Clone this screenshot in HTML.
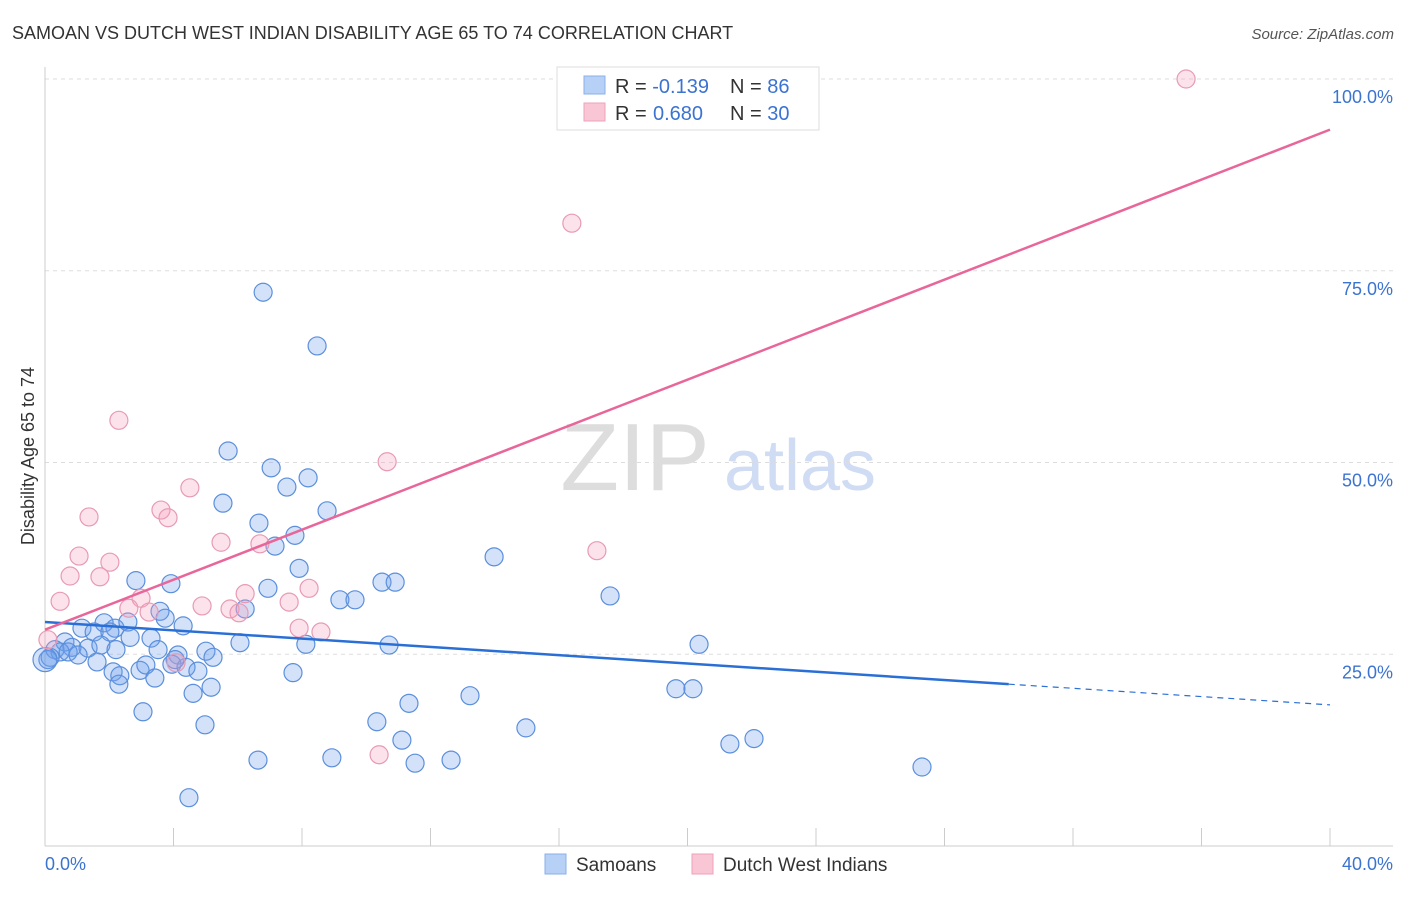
<!DOCTYPE html>
<html><head><meta charset="utf-8"><style>
body{margin:0;background:#fff;font-family:"Liberation Sans",sans-serif}
svg text{font-family:"Liberation Sans",sans-serif}
</style></head><body>
<svg id="chart" width="1406" height="892" xmlns="http://www.w3.org/2000/svg">
<text x="12" y="39" font-size="18" fill="#333">SAMOAN VS DUTCH WEST INDIAN DISABILITY AGE 65 TO 74 CORRELATION CHART</text>
<text x="1394" y="39" font-size="15" fill="#555" font-style="italic" text-anchor="end">Source: ZipAtlas.com</text>
<text x="34" y="456" font-size="18" fill="#333" text-anchor="middle" transform="rotate(-90 34 456)">Disability Age 65 to 74</text>
<g><text x="635" y="490" font-size="96" fill="#ddd" font-family="Liberation Serif" text-anchor="middle">ZIP</text><text x="800" y="490" font-size="72" fill="#cfdcf3" text-anchor="middle">atlas</text></g>
<g id="grid"></g><g id="pts"></g><g id="lines"></g>
<g>
<rect x="557" y="67" width="262" height="63" fill="#fff" stroke="#ddd"/>
<rect x="584" y="76" width="21" height="18" fill="#b7d0f5" stroke="#8ab0ea"/>
<rect x="584" y="103" width="21" height="18" fill="#f9c6d6" stroke="#efa2bb"/>
<text x="615" y="93" font-size="20" fill="#333">R = <tspan fill="#3b73d1">-0.139</tspan><tspan x="730">N = </tspan><tspan fill="#3b73d1">86</tspan></text>
<text x="615" y="120" font-size="20" fill="#333">R = <tspan fill="#3b73d1" x="653">0.680</tspan><tspan x="730">N = </tspan><tspan fill="#3b73d1">30</tspan></text>
</g>
<g>
<rect x="545" y="854" width="21" height="20" fill="#b7d0f5" stroke="#8ab0ea"/><text x="576" y="871" font-size="19" fill="#333">Samoans</text>
<rect x="692" y="854" width="21" height="20" fill="#f9c6d6" stroke="#efa2bb"/><text x="723" y="871" font-size="19" fill="#333">Dutch West Indians</text>
</g>
</svg>
<script>
const blueX=[6.79,8.47,5.70,7.04,8.19,7.53,5.54,8.78,6.66,7.78,7.16,13.98,7.91,2.83,3.92,6.94,10.49,10.90,17.59,9.18,9.65,3.58,6.23,3.74,4.30,1.15,1.53,1.84,2.18,2.58,2.02,2.65,3.30,0.62,0.84,1.34,1.74,0.31,0.47,0.72,1.03,0.16,0.09,2.21,3.52,4.14,5.01,6.07,8.12,10.71,20.36,1.62,2.12,2.33,2.96,3.14,3.42,3.95,4.39,4.76,5.23,7.72,2.30,4.61,5.17,19.64,20.17,13.23,11.33,3.05,4.98,10.33,14.97,11.11,21.32,22.07,6.63,8.93,11.52,12.64,27.30,4.48,4.05,0.0];
const blueY=[72.2,65.2,51.5,49.3,48.0,46.8,44.7,43.7,42.1,40.5,39.1,37.7,36.2,34.6,34.2,33.6,34.4,34.4,32.6,32.1,32.1,30.6,30.9,29.7,28.7,28.4,27.9,29.1,28.4,29.2,27.9,27.2,27.1,26.6,25.9,25.8,26.2,25.6,25.3,25.3,24.9,24.6,24.3,25.6,25.6,24.9,25.4,26.5,26.3,26.2,26.3,24.0,22.7,22.2,22.9,23.6,21.9,23.7,23.3,22.8,24.6,22.6,21.1,19.9,20.7,20.5,20.5,19.6,18.6,17.5,15.8,16.2,15.4,13.8,13.3,14.0,11.2,11.5,10.8,11.2,10.3,6.3,24.3,24.3];
const pinkX=[35.52,16.40,2.30,10.65,4.51,3.61,3.83,1.37,5.48,6.69,17.18,1.06,2.02,0.78,1.71,8.22,6.23,2.99,0.47,2.61,3.24,4.89,5.76,6.04,7.60,7.91,8.59,4.08,10.40,0.09];
const pinkY=[100,81.2,55.5,50.1,46.7,43.8,42.8,42.9,39.6,39.4,38.5,37.8,37.0,35.2,35.1,33.6,32.9,32.3,31.9,31.0,30.5,31.3,30.9,30.4,31.8,28.4,27.9,23.9,11.9,26.9];
const yTicks=[25,50,75,100];
const xTickLabels=["0.0%","40.0%"];
const blueTrend=[29.2,18.4], pinkTrend=[28.2,93.4], blueSolidEnd=30;
const X0=45,X1=1330,Y0=846,Y100=79;
const sx=v=>X0+(X1-X0)*v/40, sy=v=>Y0-(Y0-Y100)*v/100;
const NS="http://www.w3.org/2000/svg";
function mk(tag,attrs,parent){const e=document.createElementNS(NS,tag);for(const k in attrs)e.setAttribute(k,attrs[k]);parent.appendChild(e);return e;}
const grid=document.getElementById('grid');
yTicks.forEach(t=>{
 const l=mk('line',{x1:X0,x2:1393,y1:sy(t),y2:sy(t),stroke:'#ddd','stroke-dasharray':'4 4'},grid);
 
 
 const tx=mk('text',{x:1393,y:sy(t)+24,'font-size':18,fill:'#3b73d1','text-anchor':'end'},grid);
 tx.textContent=t.toFixed(1)+'%';
 
 
});
const ax=mk('line',{x1:X0,x2:1393,y1:Y0,y2:Y0,stroke:'#ccc'},grid);


const ay=mk('line',{x1:X0,x2:X0,y1:67,y2:Y0,stroke:'#ccc'},grid);


for(let i=0;i<=10;i++){const tk=mk('line',{x1:sx(i*4),x2:sx(i*4),y1:828,y2:Y0,stroke:'#ccc'},grid);
 
 }
[[0,'start'],[40,'end']].forEach((p,i)=>{const t=mk('text',{x:i?1393:45,y:870,'font-size':18,fill:'#3b73d1','text-anchor':p[1]},grid);t.textContent=xTickLabels[i];
 
 });
const pts=document.getElementById('pts');
blueX.forEach((x,i)=>{const c=mk('circle',{cx:sx(x),cy:sy(blueY[i]),r:x===0?12:9,fill:'rgba(110,160,235,0.3)',stroke:'#5b8fdc','stroke-width':1.2},pts);
 
 });
pinkX.forEach((x,i)=>{const c=mk('circle',{cx:sx(x),cy:sy(pinkY[i]),r:9,fill:'rgba(245,160,190,0.3)',stroke:'#e89ab4','stroke-width':1.2},pts);
 
 });
const lines=document.getElementById('lines');
const by=x=>blueTrend[0]+(blueTrend[1]-blueTrend[0])*x/40;
const b1=mk('line',{x1:sx(0),y1:sy(by(0)),x2:sx(blueSolidEnd),y2:sy(by(blueSolidEnd)),stroke:'#2a6fd6','stroke-width':2.5},lines);


const b2=mk('line',{x1:sx(blueSolidEnd),y1:sy(by(blueSolidEnd)),x2:sx(40),y2:sy(by(40)),stroke:'#2a6fd6','stroke-width':1.2,'stroke-dasharray':'6 5'},lines);


const p1=mk('line',{x1:sx(0),y1:sy(pinkTrend[0]),x2:sx(40),y2:sy(pinkTrend[1]),stroke:'#e8669a','stroke-width':2.5},lines);


</script>
</body></html>
